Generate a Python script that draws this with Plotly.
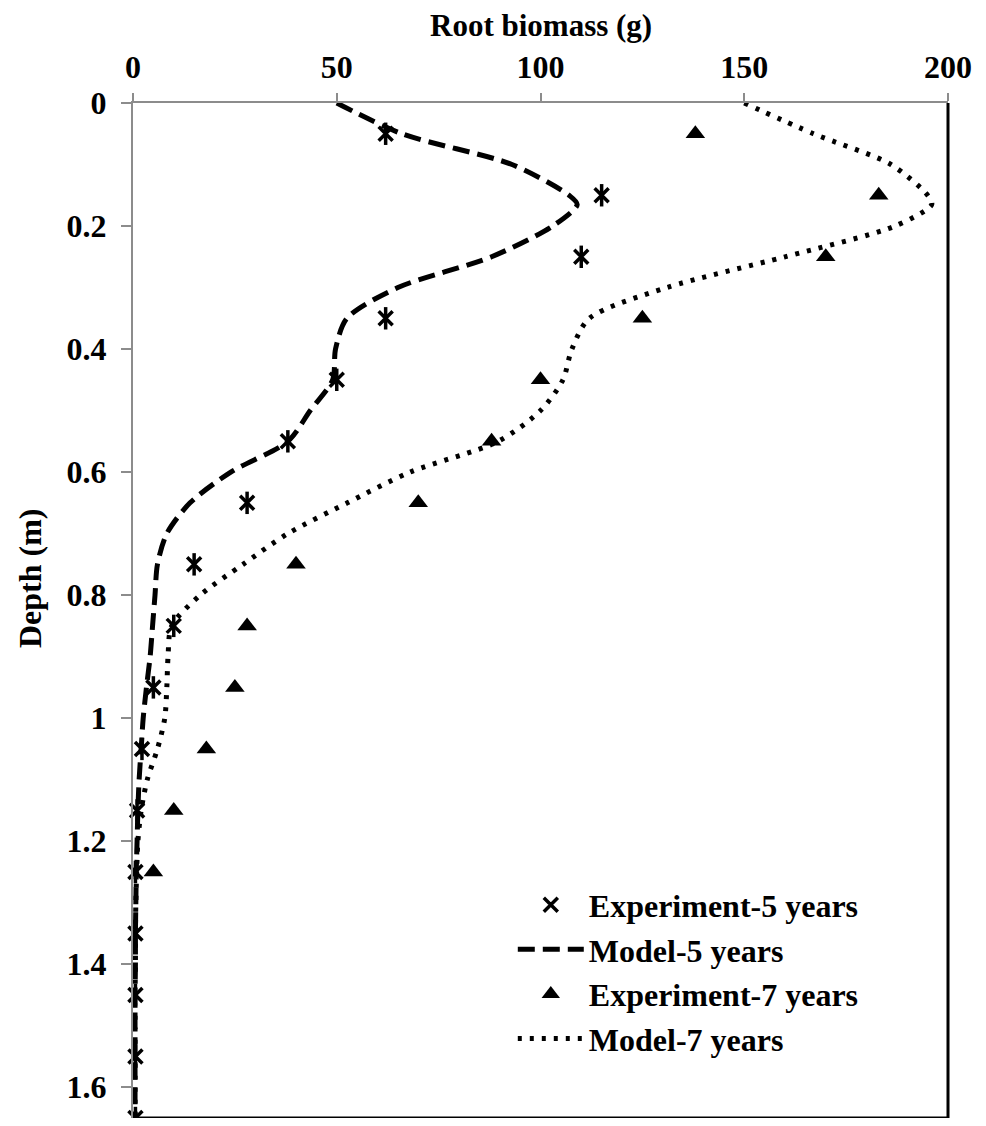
import plotly.graph_objects as go

# Experimental data (depth in m, root biomass in g)
exp_depth = [0.05, 0.15, 0.25, 0.35, 0.45, 0.55, 0.65, 0.75, 0.85, 0.95, 1.05, 1.15, 1.25, 1.35, 1.45, 1.55, 1.65]
exp5 = [62, 115, 110, 62, 50, 38, 28, 15, 10, 5, 2.2, 1.0, 0.6, 0.6, 0.6, 0.6, 0.6]
exp7_depth = [0.05, 0.15, 0.25, 0.35, 0.45, 0.55, 0.65, 0.75, 0.85, 0.95, 1.05, 1.15, 1.25]
exp7 = [138, 183, 170, 125, 100, 88, 70, 40, 28, 25, 18, 10, 5]

# Model curves
model_depth = [0, 0.05, 0.1, 0.15, 0.165, 0.2, 0.25, 0.3, 0.35, 0.4, 0.45, 0.5, 0.55, 0.6, 0.65,
               0.7, 0.75, 0.8, 0.85, 0.9, 0.95, 1.0, 1.05, 1.1, 1.15, 1.2, 1.25, 1.3, 1.35,
               1.4, 1.45, 1.5, 1.55, 1.6, 1.65]
model5 = [50, 66, 93, 107, 109, 103, 88, 65, 52.5, 49.7, 49, 43.5, 38, 24, 14,
          8.3, 6, 5.4, 4.8, 4.2, 3.3, 2.5, 2.0, 1.5, 1.2, 1.0, 0.8, 0.7, 0.6,
          0.6, 0.5, 0.5, 0.5, 0.5, 0.5]
model7 = [150, 167, 186, 195, 196, 187, 160, 131, 112, 107.7, 105.5, 100, 89.6, 68, 52.6,
          38, 27, 16.5, 9.5, 8.6, 8.3, 7.8, 6.0, 3.5, 2.0, 1.2, 0.9, 0.7, 0.6,
          0.6, 0.5, 0.5, 0.5, 0.5, 0.5]

x_ticks = [0, 50, 100, 150, 200]
y_ticks = [0, 0.2, 0.4, 0.6, 0.8, 1.0, 1.2, 1.4, 1.6]

FONT = "Liberation Serif"
GRAY = "#8c8c8c"

fig = go.Figure()

fig.add_trace(go.Scatter(
    x=exp5, y=exp_depth, mode="markers", name="Experiment-5 years",
    marker=dict(symbol="x-thin-open", size=14, color="black", line=dict(width=3.5, color="black")),
    cliponaxis=False, legendgroup="a"))
fig.add_trace(go.Scatter(
    x=exp5, y=exp_depth, mode="markers", showlegend=False,
    marker=dict(symbol="line-ns-open", size=16, color="black", line=dict(width=3.5, color="black")),
    cliponaxis=False, legendgroup="a", hoverinfo="skip"))
fig.add_trace(go.Scatter(
    x=model5, y=model_depth, mode="lines", name="Model-5 years",
    line=dict(color="black", width=5, dash="17px,8px", shape="spline", smoothing=0.8),
    cliponaxis=False, legendgroup="b"))
fig.add_trace(go.Scatter(
    x=exp7, y=exp7_depth, mode="markers", name="Experiment-7 years",
    marker=dict(symbol="triangle-up", size=17, color="black"),
    cliponaxis=False, legendgroup="c"))
fig.add_trace(go.Scatter(
    x=model7, y=model_depth, mode="lines", name="Model-7 years",
    line=dict(color="black", width=5, dash="4px,8px", shape="spline", smoothing=0.8),
    cliponaxis=False, legendgroup="d"))

fig.update_layout(
    width=970, height=1110,
    margin=dict(l=125, r=30, t=95, b=0, autoexpand=False),
    paper_bgcolor="white", plot_bgcolor="white",
    font=dict(family=FONT, size=32, color="black", weight="bold"),
    showlegend=True,
    legend=dict(
        x=0.466, y=0.237, xanchor="left", yanchor="top",
        bgcolor="rgba(0,0,0,0)", borderwidth=0,
        font=dict(family=FONT, size=32, color="black", weight="bold"),
        itemwidth=66, tracegroupgap=0, traceorder="grouped",
    ),
    xaxis=dict(
        side="top", range=[0, 200], tickvals=x_ticks, automargin=False,
        showgrid=False, zeroline=False, showline=True, linecolor=GRAY, linewidth=2,
        ticks="outside", ticklen=8, tickcolor=GRAY, tickwidth=2,
        tickfont=dict(family=FONT, size=32, color="black", weight="bold"),
        ticklabelstandoff=2,
    ),
    yaxis=dict(
        range=[1.65, 0], tickvals=y_ticks, automargin=False,
        showgrid=False, zeroline=False, showline=True, linecolor=GRAY, linewidth=2,
        ticks="outside", ticklen=10, tickcolor=GRAY, tickwidth=2,
        tickfont=dict(family=FONT, size=32, color="black", weight="bold"),
        ticklabelstandoff=8,
    ),
    shapes=[
        dict(type="line", xref="paper", yref="paper", x0=1, x1=1, y0=0, y1=1,
             line=dict(color="black", width=3)),
        dict(type="line", xref="paper", yref="paper", x0=0, x1=1, y0=0, y1=0,
             line=dict(color="black", width=3)),
    ],
    annotations=[
        dict(text="Root biomass (g)", xref="paper", yref="paper", x=0.5, y=1.0759,
             xanchor="center", yanchor="middle", showarrow=False,
             font=dict(family=FONT, size=31, color="black", weight="bold")),
        dict(text="Depth (m)", xref="paper", yref="paper", x=-0.1264, y=0.532,
             xanchor="center", yanchor="middle", showarrow=False, textangle=-90,
             font=dict(family=FONT, size=32, color="black", weight="bold")),
    ],
)

fig.write_html("out.html")
